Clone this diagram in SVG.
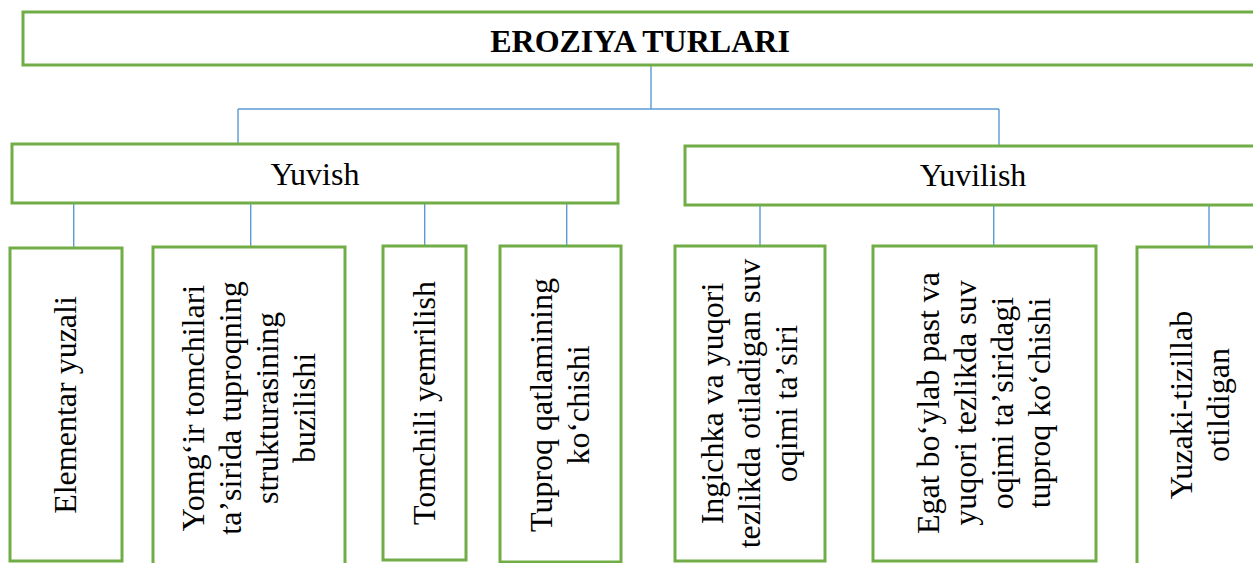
<svg xmlns="http://www.w3.org/2000/svg" width="1253" height="563" viewBox="0 0 1253 563">
<style>
.box{fill:#fff;stroke:#70AD47;stroke-width:3}
.con{fill:none;stroke:#5B9BD5;stroke-width:1.4}
.t{font-family:"Liberation Serif","DejaVu Serif",serif;font-size:32px;fill:#000;text-anchor:middle}
.title{font-weight:bold}
</style>
<rect width="1253" height="563" fill="#fff"/>
<g id="connectors">
<path class="con" d="M651 65V109M238 109H999M238 109V144M999 109V146"/>
<path class="con" d="M73.7 203V248M250.7 203V247M424.7 203V246M566.7 203V246"/>
<path class="con" d="M760 205V246M993.7 205V246M1209 205V247"/>
</g>
<g id="root">
<rect class="box" x="23" y="12" width="1234" height="53"/>
<text class="t title" x="640" y="52">EROZIYA TURLARI</text>
</g>
<g id="yuvish">
<rect class="box" x="12" y="144" width="606" height="59"/>
<text class="t" x="315" y="185">Yuvish</text>
</g>
<g id="yuvilish">
<rect class="box" x="685" y="146" width="575" height="59"/>
<text class="t" x="973" y="186">Yuvilish</text>
</g>
<g id="elementar">
<rect class="box" x="10" y="248" width="112" height="313"/>
<text class="t" transform="translate(66 405) rotate(-90)"><tspan x="0" y="10">Elementar yuzali</tspan></text>
</g>
<g id="yomgir">
<rect class="box" x="153" y="247" width="192" height="323"/>
<text class="t" transform="translate(249 408) rotate(-90)"><tspan x="0" y="-45.5">Yomgʻir tomchilari</tspan><tspan x="0" y="-8.5">taʼsirida tuproqning</tspan><tspan x="0" y="28.5">strukturasining</tspan><tspan x="0" y="65.5">buzilishi</tspan></text>
</g>
<g id="tomchili">
<rect class="box" x="383" y="246" width="83" height="314"/>
<text class="t" transform="translate(424.5 403) rotate(-90)"><tspan x="0" y="10">Tomchili yemrilish</tspan></text>
</g>
<g id="tuproq">
<rect class="box" x="500" y="246" width="121" height="316"/>
<text class="t" transform="translate(560.5 405) rotate(-90)"><tspan x="0" y="-8.5">Tuproq qatlamining</tspan><tspan x="0" y="28.5">koʻchishi</tspan></text>
</g>
<g id="ingichka">
<rect class="box" x="675" y="246" width="150" height="315"/>
<text class="t" transform="translate(750 403.5) rotate(-90)"><tspan x="0" y="-27">Ingichka va yuqori</tspan><tspan x="0" y="10">tezlikda otiladigan suv</tspan><tspan x="0" y="47">oqimi taʼsiri</tspan></text>
</g>
<g id="egat">
<rect class="box" x="873" y="246" width="223" height="315"/>
<text class="t" transform="translate(984.5 403) rotate(-90)"><tspan x="0" y="-45.5">Egat boʻylab past va</tspan><tspan x="0" y="-8.5">yuqori tezlikda suv</tspan><tspan x="0" y="28.5">oqimi taʼsiridagi</tspan><tspan x="0" y="65.5">tuproq koʻchishi</tspan></text>
</g>
<g id="yuzaki">
<rect class="box" x="1137" y="247" width="126" height="320"/>
<text class="t" transform="translate(1200 405) rotate(-90)"><tspan x="0" y="-8.5">Yuzaki-tizillab</tspan><tspan x="0" y="28.5">otildigan</tspan></text>
</g>
</svg>
